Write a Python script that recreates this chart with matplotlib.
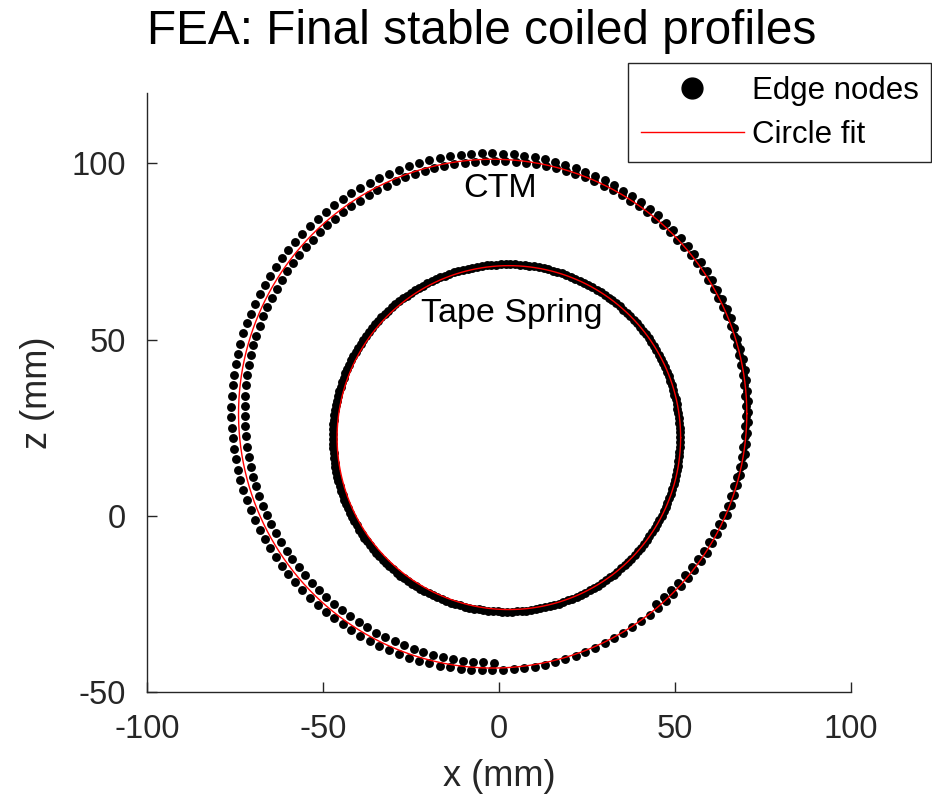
import numpy as np
import matplotlib
matplotlib.use('Agg')
import matplotlib.pyplot as plt
from matplotlib.lines import Line2D

plt.rcParams['font.family'] = ['Liberation Sans', 'DejaVu Sans']
plt.rcParams['axes.unicode_minus'] = False
dark = '#262626'

# Edge node rings: centre x, centre z, radius (mm),
# start / end angle (deg), node count
ctm_outer = [-2.65, 29.5, 73.4, 0, 360, 153]
ctm_inner = [-1.1, 29.55, 71.2, -50, 272, 138]
tape_nodes = [2.1, 22.1, 49.3, -85, 275, 228]

# Circle fits: centre x, centre z, radius (mm)
ctm_fit = [-1.8, 29.0, 72.2]
tape_fit = [2.8, 22.2, 48.8]

labels = ['CTM', 'Tape Spring']
label_pos = [(0.3, 92.9), (3.7, 57.3)]

fig = plt.figure(figsize=(9.32, 8.02), dpi=100)
ax = fig.add_axes([147/932, 110/802, 704/932, 599/802])


def ring(p):
    cx, cz, r, a0, a1, n = p
    t = np.radians(np.linspace(a0, a1, n, endpoint=False))
    return cx + r*np.cos(t), cz + r*np.sin(t)


for p in [ctm_outer, ctm_inner, tape_nodes]:
    x, z = ring(p)
    ax.plot(x, z, 'o', color='k', markersize=6.4, markeredgewidth=0)

t = np.linspace(0, 2*np.pi, 400)
for cx, cz, r in [ctm_fit, tape_fit]:
    ax.plot(cx + r*np.cos(t), cz + r*np.sin(t), color='r', lw=1.0)

for s, (x, z) in zip(labels, label_pos):
    ax.text(x, z, s, ha='center', va='center', fontsize=24.5, color='k')

ax.set_xlim(-100, 100)
ax.set_ylim(-50, 120)
ax.set_xticks([-100, -50, 0, 50, 100])
ax.set_yticks([-50, 0, 50, 100])
ax.tick_params(direction='in', length=7, width=1, colors=dark, labelsize=23.5)
ax.tick_params(axis='x', pad=16)
ax.tick_params(axis='y', pad=15)
for side in ['top', 'right']:
    ax.spines[side].set_visible(False)
for side in ['left', 'bottom']:
    ax.spines[side].set_color(dark)
    ax.spines[side].set_linewidth(1)

ax.set_xlabel('x (mm)', fontsize=26, color=dark, labelpad=10)
ax.set_ylabel('z (mm)', fontsize=26, color=dark, labelpad=12)
fig.text(482/932, 1 - 31/802, 'FEA: Final stable coiled profiles',
         ha='center', va='center', fontsize=34.4, color='k')

handles = [Line2D([], [], ls='none', marker='o', color='k', markersize=15),
           Line2D([], [], color='r', lw=1.0)]
leg = ax.legend(handles, ['Edge nodes', 'Circle fit'], loc='upper right',
                bbox_to_anchor=(931/932, 1 - 63/802), bbox_transform=fig.transFigure,
                borderaxespad=0, fontsize=22.5, fancybox=False, framealpha=1,
                handlelength=3.3, handletextpad=0.25, labelspacing=0.45,
                borderpad=0.4)
leg.get_frame().set_edgecolor(dark)
leg.get_frame().set_linewidth(1)
for txt in leg.get_texts():
    txt.set_color('k')

fig.savefig('out.png', dpi=100)
